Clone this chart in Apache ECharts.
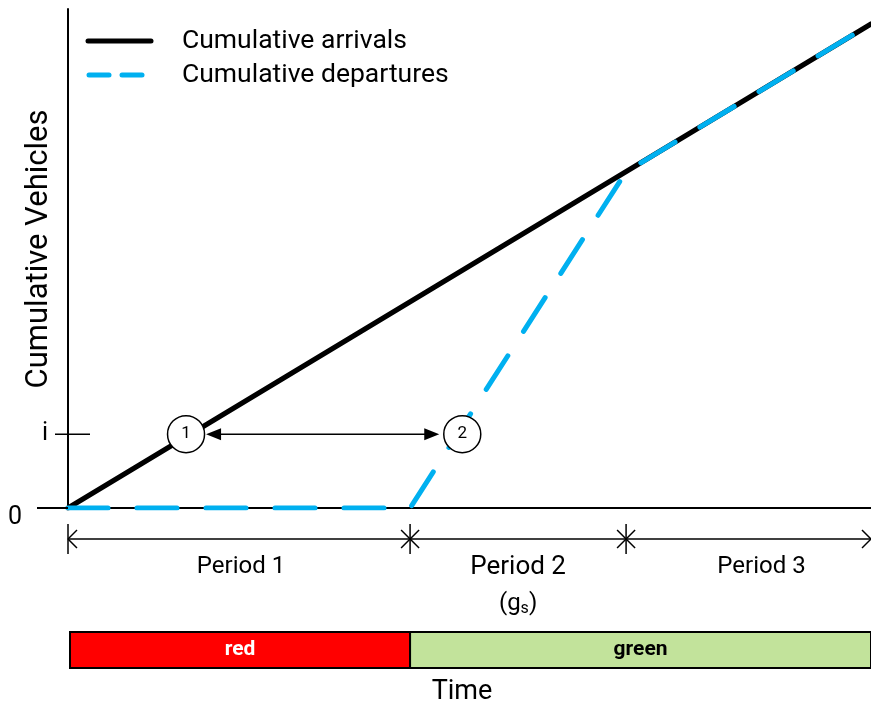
<!DOCTYPE html>
<html><head><meta charset="utf-8">
<script src="https://cdn.jsdelivr.net/npm/echarts@6/dist/echarts.min.js"></script>
<style>html,body{margin:0;padding:0;background:#fff}#c{width:871px;height:709px}</style>
</head><body><div id="c"></div>
<script>
// ---- data (time units 0..100, vehicle units 0..100) ----
const arrivalsT = [0, 100];
const arrivalsN = [0, 97];
const departuresT = [0, 42.6, 69.5, 100];
const departuresN = [0, 0, 67.4, 97];
const periodBounds = [0, 42.6, 69.5, 100];
const periodLabels = ['Period 1', 'Period 2', 'Period 3'];
const phaseNames = ['red', 'green'];
const phaseBounds = [0, 42.6, 100];
const iLevel = 14.8;
const markerT = [14.7, 49.1];
const markerLabels = ['1', '2'];
const yTickValues = [0, iLevel];
const yTickLabels = ['0', 'i'];
const seriesNames = ['Cumulative arrivals', 'Cumulative departures'];

const FONT = 'Roboto, "Noto Sans", sans-serif';
const BLUE = '#00B0F0';

const chart = echarts.init(document.getElementById('c'), null, {renderer: 'canvas'});
const zip = (a, b) => a.map((v, i) => [v, b[i]]);

chart.setOption({
  animation: false,
  backgroundColor: '#fff',
  grid: {left: 68, right: 0, top: 9, bottom: 201, containLabel: false},
  xAxis: {type: 'value', min: 0, max: 100, axisLine: {show: true, onZero: false, lineStyle: {color: '#000', width: 2}},
          axisTick: {show: false}, axisLabel: {show: false}, splitLine: {show: false}},
  yAxis: {type: 'value', min: 0, max: 100, axisLine: {show: true, lineStyle: {color: '#000', width: 2}},
          axisTick: {show: false}, axisLabel: {show: false}, splitLine: {show: false}},
  series: [
    {name: seriesNames[0], type: 'line', data: zip(arrivalsT, arrivalsN), showSymbol: false, z: 2,
     lineStyle: {color: '#000', width: 5, cap: 'round'}},
    {name: seriesNames[1], type: 'line', data: zip(departuresT, departuresN), showSymbol: false, z: 3,
     lineStyle: {color: BLUE, width: 5, type: [40, 29], cap: 'round', join: 'round'}},
    {type: 'scatter', z: 6, symbol: 'circle', symbolSize: 37,
     data: markerT.map((t, i) => ({value: [t, iLevel], label: {formatter: markerLabels[i]}})),
     itemStyle: {color: '#fff', borderColor: '#000', borderWidth: 1.5, opacity: 1},
     label: {show: true, position: 'inside', color: '#000', fontSize: 17, fontFamily: FONT}}
  ]
});

const px = (t, n) => chart.convertToPixel({gridIndex: 0}, [t, n]);
const g = [];
const line = (x1, y1, x2, y2, w, color, extra) => g.push(Object.assign({type: 'line', shape: {x1, y1, x2, y2},
  style: Object.assign({stroke: color || '#000', lineWidth: w || 1.5}, extra || {}), z: 10}));
const text = (str, x, y, size, opts) => g.push(Object.assign({type: 'text', x, y, z: 11,
  style: Object.assign({text: str, x: 0, y: 0, fill: '#000', font: (opts && opts.weight ? opts.weight + ' ' : '') + size + 'px ' + FONT,
    align: 'center', verticalAlign: 'middle'}, opts && opts.style || {})}, opts && opts.el || {}));

const origin = px(0, 0);
// x-axis extension to the left
line(37, origin[1], origin[0], origin[1], 2);
// y tick labels
const yi = px(0, iLevel)[1];
text(yTickLabels[0], 15, origin[1] + 10, 25);
text(yTickLabels[1], 45, yi, 25);
line(55, yi, 90, yi, 1.5);
// y title
text('Cumulative Vehicles', 39, 249, 31, {el: {rotation: Math.PI / 2}});

// double arrow between markers
const m1 = px(markerT[0], iLevel), m2 = px(markerT[1], iLevel);
const r = 19;
const a1 = m1[0] + r + 1, a2 = m2[0] - r - 4;
line(a1 + 10, m1[1], a2 - 10, m1[1], 1.5);
g.push({type: 'polygon', z: 10, shape: {points: [[a1, m1[1]], [a1 + 15, m1[1] - 6], [a1 + 15, m1[1] + 6]]}, style: {fill: '#000'}});
g.push({type: 'polygon', z: 10, shape: {points: [[a2, m1[1]], [a2 - 15, m1[1] - 6], [a2 - 15, m1[1] + 6]]}, style: {fill: '#000'}});

// legend
line(88, 41, 151, 41, 5, '#000', {lineCap: 'round'});
line(89, 75, 109, 75, 5, BLUE, {lineCap: 'round'});
line(122, 75, 142, 75, 5, BLUE, {lineCap: 'round'});
text(seriesNames[0], 182, 41, 26.5, {style: {align: 'left'}});
text(seriesNames[1], 182, 75, 26.5, {style: {align: 'left'}});

// period timeline
const ty = 539;
const bx = periodBounds.map(t => px(t, 0)[0]);
line(bx[0], ty, bx[bx.length - 1], ty, 1.5);
line(bx[0], ty - 15, bx[0], ty + 15, 1.5);
line(bx[0], ty, bx[0] + 9, ty - 9, 1.5);
line(bx[0], ty, bx[0] + 9, ty + 9, 1.5);
const xe = bx[bx.length - 1];
line(xe, ty, xe - 9, ty - 9, 1.5);
line(xe, ty, xe - 9, ty + 9, 1.5);
for (let i = 1; i < bx.length - 1; i++) {
  line(bx[i], ty - 15, bx[i], ty + 15, 1.5);
  line(bx[i] - 9, ty - 9, bx[i] + 9, ty + 9, 1.5);
  line(bx[i] - 9, ty + 9, bx[i] + 9, ty - 9, 1.5);
}
const nudge = [2, 0, 13];
periodLabels.forEach((lab, i) => {
  const cx = (bx[i] + bx[i + 1]) / 2 + nudge[i];
  text(lab, cx, 567, i === 1 ? 26 : 24);
});
// (g_s)
g.push({type: 'text', x: (bx[1] + bx[2]) / 2, y: 604, z: 11,
  style: {text: '(g{s|s})', x: 0, y: 0, align: 'center', verticalAlign: 'middle', fill: '#000',
    font: '24px ' + FONT, rich: {s: {fontSize: 16, fontFamily: FONT, padding: [10, 0, 0, 0]}}}});

// signal bar
const barTop = 632, barH = 36;
const phaseColors = ['#FF0000', '#C2E39B'];
const phaseText = ['#fff', '#000'];
for (let i = 0; i < phaseNames.length; i++) {
  const x0 = px(phaseBounds[i], 0)[0] + (i === 0 ? 2 : 0);
  const x1 = px(phaseBounds[i + 1], 0)[0];
  g.push({type: 'rect', z: 9, shape: {x: x0, y: barTop, width: x1 - x0, height: barH},
    style: {fill: phaseColors[i], stroke: '#000', lineWidth: 2}});
  text(phaseNames[i], (x0 + x1) / 2, barTop + barH / 2, 21, {weight: 'bold', style: {fill: phaseText[i]}});
}
text('Time', 462, 692, 27);

chart.setOption({graphic: {elements: g}});
</script></body></html>
